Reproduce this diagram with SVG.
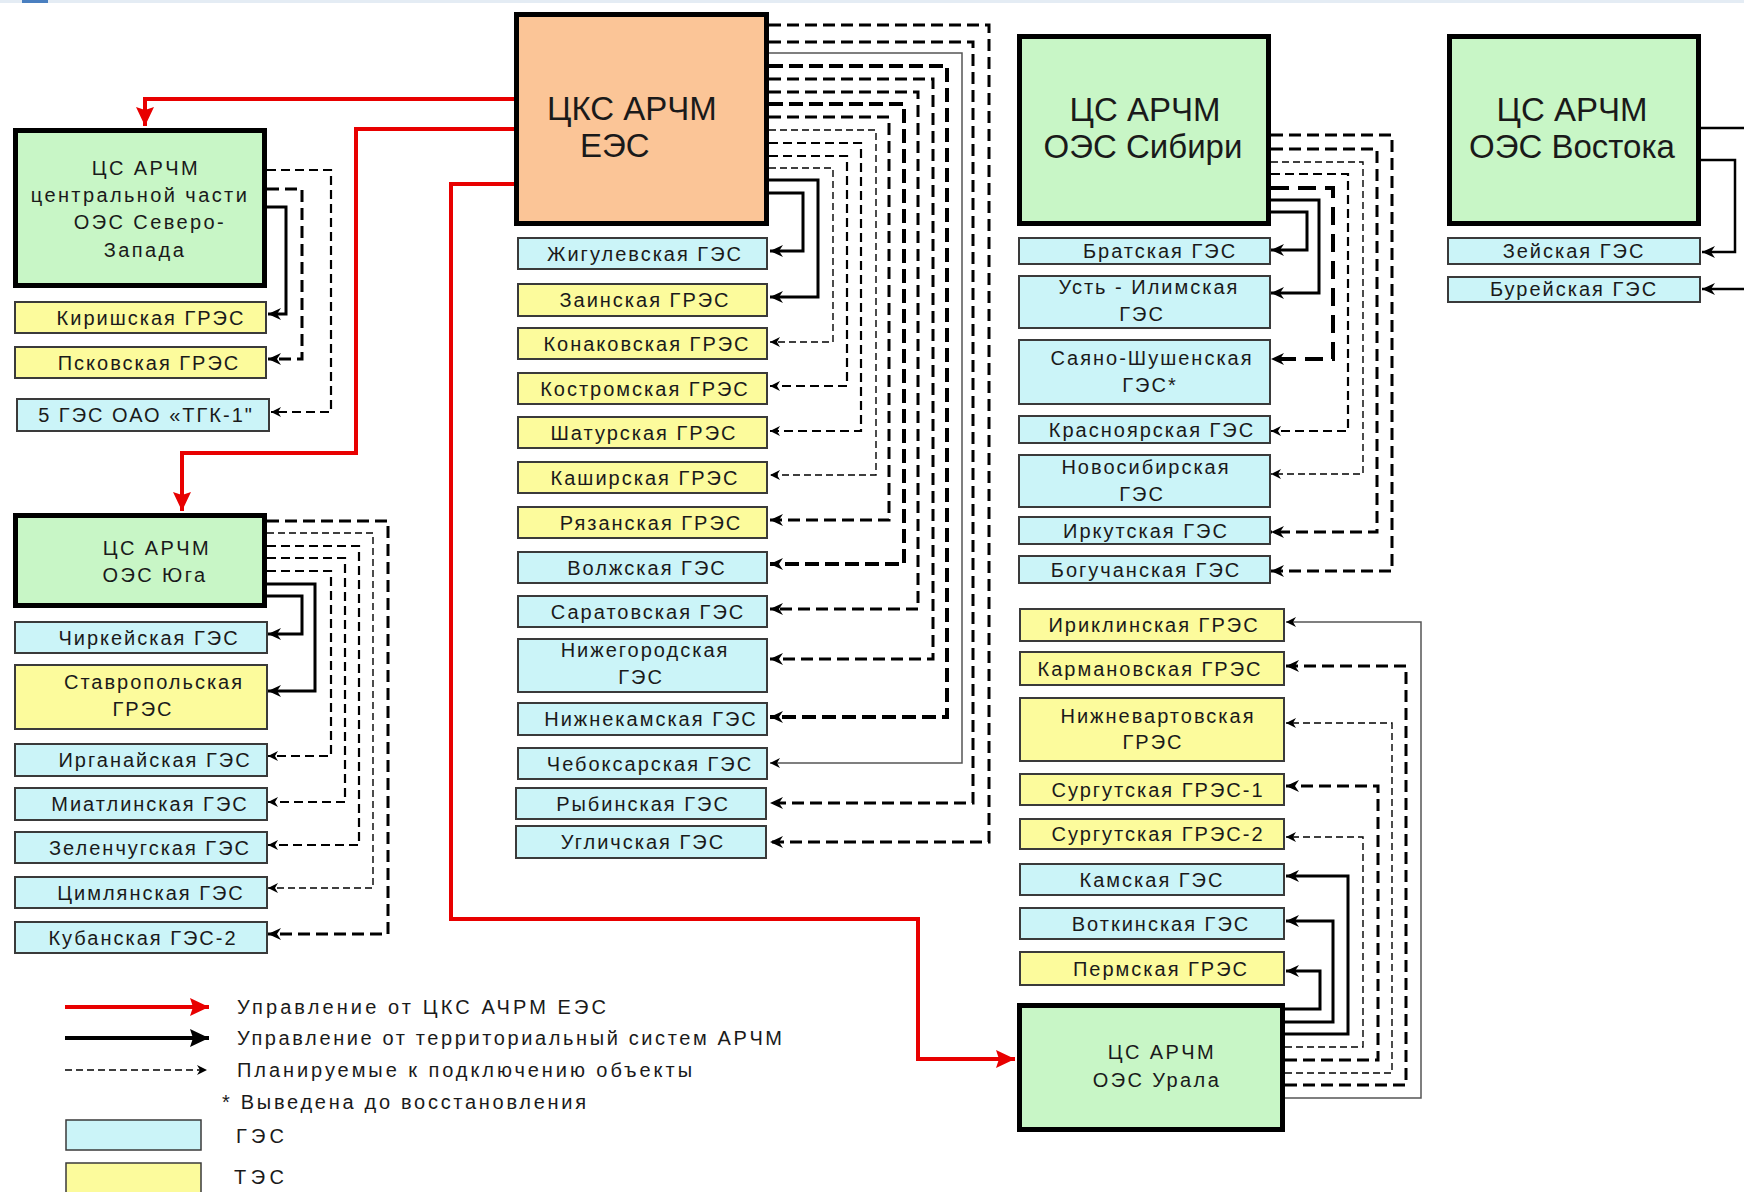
<svg xmlns="http://www.w3.org/2000/svg" width="1744" height="1192" viewBox="0 0 1744 1192">
<defs>
<style>
text{font-family:"Liberation Sans",Arial,sans-serif;fill:#1a1a1a}
.lbl{font-size:20px;letter-spacing:2px;text-anchor:middle}
.mid{font-size:20px;letter-spacing:2.4px;text-anchor:middle}
.big{font-size:33px;text-anchor:middle}
.leg{font-size:20px}
.g{fill:#C8F6C6;stroke:#000;stroke-width:5}
.p{fill:#FBC597;stroke:#000;stroke-width:5}
.h{fill:#CBF4F8;stroke:#3a3a3a;stroke-width:2}
.t{fill:#FCFB9C;stroke:#3a3a3a;stroke-width:2}
.c{fill:none;stroke:#000}
.s{stroke-width:3;marker-end:url(#a)}
.hv{stroke-width:3;stroke-dasharray:12 6;marker-end:url(#a)}
.vh{stroke-width:4;stroke-dasharray:14 6;marker-end:url(#a)}
.md{stroke-width:2.2;stroke-dasharray:9 5;marker-end:url(#as)}
.th{stroke-width:1.4;stroke-dasharray:7 4;marker-end:url(#as)}
.gr{stroke:#555;stroke-width:1.5;marker-end:url(#as)}
.red{fill:none;stroke:#E80000;stroke-width:4;marker-end:url(#r)}
</style>
<marker id="a" markerUnits="userSpaceOnUse" markerWidth="14" markerHeight="12" refX="13" refY="6" orient="auto"><path d="M0,0 L13,6 L0,12 L4,6 z" fill="#000" stroke="none"/></marker>
<marker id="as" markerUnits="userSpaceOnUse" markerWidth="11" markerHeight="10" refX="10" refY="5" orient="auto"><path d="M0,0 L10,5 L0,10 L3,5 z" fill="#000" stroke="none"/></marker>
<marker id="ab" markerUnits="userSpaceOnUse" markerWidth="20" markerHeight="18" refX="19" refY="9" orient="auto"><path d="M0,0 L19,9 L0,18 L3,9 z" fill="#000" stroke="none"/></marker>
<marker id="r" markerUnits="userSpaceOnUse" markerWidth="20" markerHeight="18" refX="19" refY="9" orient="auto"><path d="M0,0 L19,9 L0,18 L3,9 z" fill="#E80000" stroke="none"/></marker>
</defs>
<rect width="1744" height="1192" fill="#fff"/>
<rect width="1744" height="3" fill="#E4ECF4"/>
<rect x="22" width="26" height="3" fill="#4A7FC0"/>

<g id="connectors">
<path class="red" d="M515,99 H145 V126"/>
<path class="red" d="M515,129 H356 V453 H182 V511"/>
<path class="red" d="M515,184 H451 V919 H918 V1059 H1015"/>
<path class="c hv" d="M769,25 H989 V842 H770"/>
<path class="c hv" d="M769,42 H973 V803 H770"/>
<path class="c gr" d="M769,53 H962 V763 H770"/>
<path class="c vh" d="M769,66 H947 V717 H770"/>
<path class="c hv" d="M769,79 H933 V659 H770"/>
<path class="c hv" d="M769,92 H918 V609 H770"/>
<path class="c vh" d="M769,104 H904 V564 H770"/>
<path class="c hv" d="M769,117 H889 V520 H770"/>
<path class="c th" d="M769,130 H876 V475 H770"/>
<path class="c md" d="M769,143 H861 V431 H770"/>
<path class="c md" d="M769,156 H847 V386 H770"/>
<path class="c th" d="M769,168 H833 V342 H770"/>
<path class="c s" d="M769,180 H818 V297 H770"/>
<path class="c s" d="M769,193 H803 V251 H770"/>
<path class="c md" d="M267,170 H331 V412 H271"/>
<path class="c hv" d="M267,189 H302 V359 H268"/>
<path class="c s" d="M267,207 H286 V314 H268"/>
<path class="c hv" d="M267,521 H388 V934 H268"/>
<path class="c th" d="M267,533 H373 V888 H268"/>
<path class="c md" d="M267,546 H359 V845 H268"/>
<path class="c md" d="M267,558 H345 V802 H268"/>
<path class="c md" d="M267,571 H331 V756 H268"/>
<path class="c s" d="M267,584 H315 V691 H268"/>
<path class="c s" d="M267,596 H302 V634 H268"/>
<path class="c hv" d="M1271,135 H1392 V571 H1271"/>
<path class="c hv" d="M1271,149 H1377 V532 H1271"/>
<path class="c th" d="M1271,162 H1363 V474 H1271"/>
<path class="c md" d="M1271,174 H1348 V431 H1271"/>
<path class="c" style="stroke-width:4;stroke-dasharray:18 9;marker-end:url(#a)" d="M1271,188 H1333 V359 H1271"/>
<path class="c s" d="M1271,200 H1319 V293 H1271"/>
<path class="c s" d="M1271,212 H1307 V250 H1271"/>
<path class="c s" style="stroke-width:2.5" d="M1701,160 H1735 V252 H1702"/>
<path class="c s" style="stroke-width:2.5" d="M1701,128 H1760 V289 H1702"/>
<path class="c s" d="M1285,1009 H1320 V971 H1286"/>
<path class="c s" d="M1285,1022 H1333 V921 H1286"/>
<path class="c s" d="M1285,1034 H1348 V876 H1286"/>
<path class="c th" d="M1285,1047 H1363 V837 H1286"/>
<path class="c hv" d="M1285,1060 H1378 V786 H1286"/>
<path class="c th" d="M1285,1073 H1392 V723 H1286"/>
<path class="c hv" d="M1285,1085 H1406 V666 H1286"/>
<path class="c gr" d="M1285,1098 H1421 V622 H1286"/>
</g>

<g id="n-cks"><rect class="p" x="516.5" y="14.5" width="250" height="209"/><text class="big" style="text-anchor:start" x="547" y="120">ЦКС АРЧМ</text><text class="big" style="text-anchor:start" x="580" y="157">ЕЭС</text></g>
<g id="n-zhig"><rect class="h" x="518" y="238" width="249" height="31"/><text class="lbl" x="645" y="261">Жигулевская ГЭС</text></g>
<g id="n-zain"><rect class="t" x="518" y="284" width="249" height="32"/><text class="lbl" x="645" y="307">Заинская ГРЭС</text></g>
<g id="n-konak"><rect class="t" x="518" y="328" width="249" height="31"/><text class="lbl" x="647" y="351">Конаковская ГРЭС</text></g>
<g id="n-kostr"><rect class="t" x="518" y="373" width="249" height="31"/><text class="lbl" x="645" y="396">Костромская ГРЭС</text></g>
<g id="n-shat"><rect class="t" x="518" y="417" width="249" height="31"/><text class="lbl" x="644" y="440">Шатурская ГРЭС</text></g>
<g id="n-kash"><rect class="t" x="518" y="462" width="249" height="31"/><text class="lbl" x="645" y="485">Каширская ГРЭС</text></g>
<g id="n-ryaz"><rect class="t" x="518" y="507" width="249" height="31"/><text class="lbl" x="651" y="530">Рязанская ГРЭС</text></g>
<g id="n-volzh"><rect class="h" x="518" y="552" width="249" height="31"/><text class="lbl" x="647" y="575">Волжская ГЭС</text></g>
<g id="n-sarat"><rect class="h" x="518" y="596" width="249" height="31"/><text class="lbl" x="648" y="619">Саратовская ГЭС</text></g>
<g id="n-nizhg"><rect class="h" x="518" y="639" width="249" height="53"/><text class="lbl" x="645" y="657">Нижегородская</text><text class="lbl" x="641" y="684">ГЭС</text></g>
<g id="n-nizhk"><rect class="h" x="518" y="703" width="249" height="32"/><text class="lbl" x="651" y="726">Нижнекамская ГЭС</text></g>
<g id="n-cheb"><rect class="h" x="518" y="748" width="249" height="31"/><text class="lbl" x="650" y="771">Чебоксарская ГЭС</text></g>
<g id="n-ryb"><rect class="h" x="516" y="788" width="250" height="31"/><text class="lbl" x="643" y="811">Рыбинская ГЭС</text></g>
<g id="n-uglich"><rect class="h" x="516" y="826" width="250" height="32"/><text class="lbl" x="643" y="849">Угличская ГЭС</text></g>

<g id="n-nw"><rect class="g" x="15.5" y="130.5" width="249" height="155"/><text class="mid" x="146" y="175">ЦС АРЧМ</text><text class="mid" x="140" y="202">центральной части</text><text class="mid" x="150" y="229">ОЭС Северо-</text><text class="mid" x="145" y="257">Запада</text></g>
<g id="n-kirish"><rect class="t" x="15" y="302" width="251" height="31"/><text class="lbl" x="151" y="325">Киришская ГРЭС</text></g>
<g id="n-pskov"><rect class="t" x="15" y="347" width="251" height="31"/><text class="lbl" x="149" y="370">Псковская ГРЭС</text></g>
<g id="n-tgk"><rect class="h" x="17" y="399" width="252" height="32"/><text class="lbl" x="146" y="422">5 ГЭС ОАО «ТГК-1"</text></g>

<g id="n-yug"><rect class="g" x="15.5" y="515.5" width="249" height="90"/><text class="mid" x="157" y="555">ЦС АРЧМ</text><text class="mid" x="155" y="582">ОЭС Юга</text></g>
<g id="n-chirk"><rect class="h" x="15" y="622" width="252" height="31"/><text class="lbl" x="149" y="645">Чиркейская ГЭС</text></g>
<g id="n-stavr"><rect class="t" x="15" y="665" width="252" height="64"/><text class="lbl" x="154" y="689">Ставропольская</text><text class="lbl" x="143" y="716">ГРЭС</text></g>
<g id="n-irgan"><rect class="h" x="15" y="744" width="252" height="32"/><text class="lbl" x="155" y="767">Ирганайская ГЭС</text></g>
<g id="n-miatl"><rect class="h" x="15" y="788" width="252" height="32"/><text class="lbl" x="150" y="811">Миатлинская ГЭС</text></g>
<g id="n-zelen"><rect class="h" x="15" y="832" width="252" height="31"/><text class="lbl" x="150" y="855">Зеленчугская ГЭС</text></g>
<g id="n-tsiml"><rect class="h" x="15" y="877" width="252" height="31"/><text class="lbl" x="151" y="900">Цимлянская ГЭС</text></g>
<g id="n-kuban"><rect class="h" x="15" y="922" width="252" height="31"/><text class="lbl" x="143" y="945">Кубанская ГЭС-2</text></g>

<g id="n-sib"><rect class="g" x="1019.5" y="36.5" width="249" height="187"/><text class="big" x="1145" y="121">ЦС АРЧМ</text><text class="big" x="1143" y="158">ОЭС Сибири</text></g>
<g id="n-brat"><rect class="h" x="1019" y="238" width="251" height="26"/><text class="lbl" x="1160" y="258">Братская ГЭС</text></g>
<g id="n-ust"><rect class="h" x="1019" y="276" width="251" height="52"/><text class="lbl" x="1149" y="294">Усть - Илимская</text><text class="lbl" x="1142" y="321">ГЭС</text></g>
<g id="n-sayano"><rect class="h" x="1019" y="340" width="251" height="64"/><text class="lbl" x="1152" y="365">Саяно-Шушенская</text><text class="lbl" x="1150" y="392">ГЭС*</text></g>
<g id="n-krasn"><rect class="h" x="1019" y="416" width="251" height="27"/><text class="lbl" x="1152" y="437">Красноярская ГЭС</text></g>
<g id="n-novos"><rect class="h" x="1019" y="455" width="251" height="52"/><text class="lbl" x="1146" y="474">Новосибирская</text><text class="lbl" x="1142" y="501">ГЭС</text></g>
<g id="n-irk"><rect class="h" x="1019" y="517" width="251" height="27"/><text class="lbl" x="1146" y="538">Иркутская ГЭС</text></g>
<g id="n-boguch"><rect class="h" x="1019" y="556" width="251" height="27"/><text class="lbl" x="1146" y="577">Богучанская ГЭС</text></g>

<g id="n-vost"><rect class="g" x="1449.5" y="36.5" width="249" height="187"/><text class="big" x="1572" y="121">ЦС АРЧМ</text><text class="big" x="1572" y="158">ОЭС Востока</text></g>
<g id="n-zeya"><rect class="h" x="1448" y="238" width="252" height="26"/><text class="lbl" x="1574" y="258">Зейская ГЭС</text></g>
<g id="n-bureya"><rect class="h" x="1448" y="277" width="252" height="25"/><text class="lbl" x="1574" y="296">Бурейская ГЭС</text></g>

<g id="n-iriklin"><rect class="t" x="1020" y="609" width="264" height="32"/><text class="lbl" x="1154" y="632">Ириклинская ГРЭС</text></g>
<g id="n-karman"><rect class="t" x="1020" y="652" width="264" height="33"/><text class="lbl" x="1150" y="676">Кармановская ГРЭС</text></g>
<g id="n-nizhv"><rect class="t" x="1020" y="698" width="264" height="63"/><text class="lbl" x="1158" y="723">Нижневартовская</text><text class="lbl" x="1153" y="749">ГРЭС</text></g>
<g id="n-surg1"><rect class="t" x="1020" y="774" width="264" height="31"/><text class="lbl" x="1158" y="797">Сургутская ГРЭС-1</text></g>
<g id="n-surg2"><rect class="t" x="1020" y="819" width="264" height="30"/><text class="lbl" x="1158" y="841">Сургутская ГРЭС-2</text></g>
<g id="n-kam"><rect class="h" x="1020" y="864" width="264" height="31"/><text class="lbl" x="1152" y="887">Камская ГЭС</text></g>
<g id="n-votk"><rect class="h" x="1020" y="908" width="264" height="31"/><text class="lbl" x="1161" y="931">Воткинская ГЭС</text></g>
<g id="n-perm"><rect class="t" x="1020" y="952" width="264" height="33"/><text class="lbl" x="1161" y="976">Пермская ГРЭС</text></g>
<g id="n-ural"><rect class="g" x="1019.5" y="1005.5" width="263" height="124"/><text class="mid" x="1162" y="1059">ЦС АРЧМ</text><text class="mid" x="1157" y="1087">ОЭС Урала</text></g>

<g id="legend">
<path class="red" d="M65,1007 H209"/>
<path class="c" style="stroke-width:4;marker-end:url(#ab)" d="M65,1038 H209"/>
<path class="c th" d="M65,1070 H207"/>
<text class="leg" x="237" y="1014" textLength="369">Управление от ЦКС АЧРМ ЕЭС</text>
<text class="leg" x="237" y="1045" textLength="545">Управление от территориальный систем АРЧМ</text>
<text class="leg" x="237" y="1077" textLength="455">Планируемые к подключению объекты</text>
<text class="leg" x="222" y="1109" textLength="364">* Выведена до восстановления</text>
<rect class="h" x="66" y="1120" width="135" height="30" style="stroke-width:1.5"/>
<text class="leg" x="236" y="1143" textLength="48">ГЭС</text>
<rect class="t" x="66" y="1163" width="135" height="32" style="stroke-width:1.5"/>
<text class="leg" x="234" y="1184" textLength="50">ТЭС</text>
</g>
</svg>
